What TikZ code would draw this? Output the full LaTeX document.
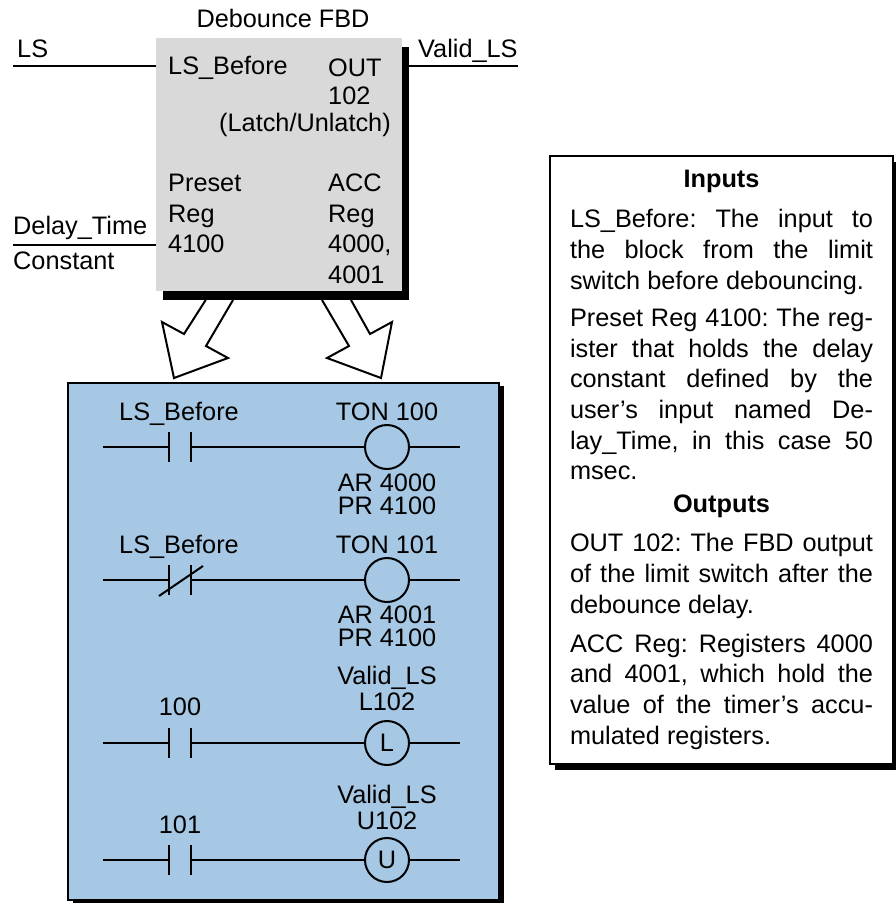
\documentclass[tikz,border=0pt]{standalone}
\usepackage{fontspec}
\setmainfont{Liberation Sans}
\usetikzlibrary{
  positioning,
  shadows
}
\definecolor{ladderblue}{HTML}{A6C8E4}
\definecolor{fbdgray}{HTML}{D9D9D9}

\begin{document}
\begin{tikzpicture}[x=1pt, y=-1pt]

\tikzset{
  fbdblock/.style={
    fill=fbdgray,
    minimum width=246pt,
    minimum height=253pt,
    drop shadow={shadow xshift=7pt, shadow yshift=-9pt, fill=black, opacity=1}
  },
  ladderbox/.style={
    draw,
    fill=ladderblue,
    line width=2pt,
    minimum width=430.5pt,
    minimum height=517.5pt,
    drop shadow={shadow xshift=5pt, shadow yshift=-3pt, fill=black, opacity=1}
  },
  notebox/.style={
    draw,
    fill=white,
    line width=2pt,
    text width=303pt,
    inner sep=0pt,
    minimum width=343pt,
    minimum height=608pt,
    align=justify,
    font=\fontsize{25.3}{30.7}\selectfont\frenchspacing,
    drop shadow={shadow xshift=5pt, shadow yshift=-6pt, fill=black, opacity=1}
  },
  lbl/.style={
    inner sep=0pt,
    anchor=base west,
    font=\fontsize{25.3}{25.3}\selectfont
  },
  clbl/.style={
    lbl,
    anchor=base
  },
  coil/.style={
    draw,
    circle,
    fill=ladderblue,
    inner sep=0pt,
    minimum size=44pt,
    line width=2pt,
    font=\fontsize{25.3}{25.3}\selectfont
  },
  contactbar/.style={
    fill=black,
    inner sep=0pt,
    minimum width=2pt,
    minimum height=30pt
  },
  wire/.style={line width=2pt},
  bigarrow/.style={draw, fill=white, line width=2pt, line join=miter}
}

\useasboundingbox (0,0) rectangle (895,903);

% Block FBD
\node[fbdblock] (fbd) at (279,164.5) {};
\node[clbl] (fbdtitle) at (283,27) {Debounce FBD};

% Wires FBD
\coordinate (lsend) at (13,66);
\coordinate (validend) at (518,66);
\coordinate (delayend) at (13,245);
\draw[wire] (lsend) -- (lsend -| fbd.west);
\draw[wire] (validend -| fbd.east) -- (validend);
\draw[wire] (delayend) -- (delayend -| fbd.west);

% Labels wires
\node[lbl] (ls) at (17,57) {LS};
\node[lbl] (valid) at (418,57) {Valid\_LS};
\node[lbl] (delay) at (13,234) {Delay\_Time};
\node[lbl] (const) at (13,269) {Constant};

% Labels in block
\node[lbl] (lsbefore) at (168,74) {LS\_Before};
\node[lbl] (out) at (328,76) {OUT};
\node[lbl] (outnum) at (328,104) {102};
\node[lbl] (latch) at (219,131) {(Latch/Unlatch)};
\node[lbl] (preset) at (168,191) {Preset};
\node[lbl] (presetreg) at (168,222) {Reg};
\node[lbl] (presetnum) at (168,252) {4100};
\node[lbl] (acc) at (328,191) {ACC};
\node[lbl] (accreg) at (328,222) {Reg};
\node[lbl] (accnuma) at (328,252) {4000,};
\node[lbl] (accnumb) at (328,283) {4001};

% Big arrows
\draw[bigarrow] (205.7,300) -- (184,334) -- (162,322) -- (174,378) -- (228,358) -- (206,346) -- (233,300);
\draw[bigarrow] (322,300) -- (349,346) -- (327,358) -- (381,378) -- (392,322) -- (370,334) -- (351,300);

% Box ladder
\node[ladderbox] (ladder) at (283.25,641.25) {};

% Rung 1
\coordinate (r1a) at (103,447);
\coordinate (r1b) at (460,447);
\node[contactbar] (c1l) at (169,447) {};
\node[contactbar] (c1r) at (191,447) {};
\node[coil] (k1) at (387,447) {};
\draw[wire] (r1a) -- (c1l);
\draw[wire] (c1r) -- (k1);
\draw[wire] (k1) -- (r1b);
\node[clbl] (c1txt) at (179,420) {LS\_Before};
\node[clbl] (k1txt) at (387,420) {TON 100};
\node[clbl] (k1ar) at (387,491.5) {AR 4000};
\node[clbl] (k1pr) at (387,514.5) {PR 4100};

% Rung 2
\coordinate (r2a) at (103,580);
\coordinate (r2b) at (460,580);
\node[contactbar] (c2l) at (169,580) {};
\node[contactbar] (c2r) at (191,580) {};
\node[coil] (k2) at (387,580) {};
\draw[wire] (r2a) -- (c2l);
\draw[wire] (c2r) -- (k2);
\draw[wire] (k2) -- (r2b);
\coordinate (s2a) at (159,596);
\coordinate (s2b) at (203,566);
\draw[wire] (s2a) -- (s2b);
\node[clbl] (c2txt) at (179,553) {LS\_Before};
\node[clbl] (k2txt) at (387,553) {TON 101};
\node[clbl] (k2ar) at (387,623) {AR 4001};
\node[clbl] (k2pr) at (387,646) {PR 4100};

% Rung 3
\coordinate (r3a) at (103,743);
\coordinate (r3b) at (460,743);
\node[contactbar] (c3l) at (169,743) {};
\node[contactbar] (c3r) at (191,743) {};
\node[coil] (k3) at (387,743) {L};
\draw[wire] (r3a) -- (c3l);
\draw[wire] (c3r) -- (k3);
\draw[wire] (k3) -- (r3b);
\node[clbl] (c3txt) at (180,715) {100};
\node[clbl] (k3txt) at (387,684) {Valid\_LS};
\node[clbl] (k3num) at (387,710) {L102};

% Rung 4
\coordinate (r4a) at (103,860);
\coordinate (r4b) at (460,860);
\node[contactbar] (c4l) at (169,860) {};
\node[contactbar] (c4r) at (191,860) {};
\node[coil] (k4) at (387,860) {U};
\draw[wire] (r4a) -- (c4l);
\draw[wire] (c4r) -- (k4);
\draw[wire] (k4) -- (r4b);
\node[clbl] (c4txt) at (180,833) {101};
\node[clbl] (k4txt) at (387,803) {Valid\_LS};
\node[clbl] (k4num) at (387,829) {U102};

% Box notes
\node[notebox] (notes) at (721.5,460) {%
{\centering\textbf{Inputs}\par}
\vspace{9.3pt}
LS\_Before: The input to\linebreak the block from the limit\linebreak switch before debouncing.\par
\vspace{6.5pt}
Preset Reg 4100: The reg-\linebreak ister that holds the delay\linebreak constant defined by the\linebreak user's input named De-\linebreak lay\_Time, in this case 50\linebreak msec.\par
\vspace{2.3pt}
{\centering\textbf{Outputs}\par}
\vspace{8.3pt}
OUT 102: The FBD output\linebreak of the limit switch after the\linebreak debounce delay.\par
\vspace{8.3pt}
ACC Reg: Registers 4000\linebreak and 4001, which hold the\linebreak value of the timer's accu-\linebreak mulated registers.};

\end{tikzpicture}
\end{document}
